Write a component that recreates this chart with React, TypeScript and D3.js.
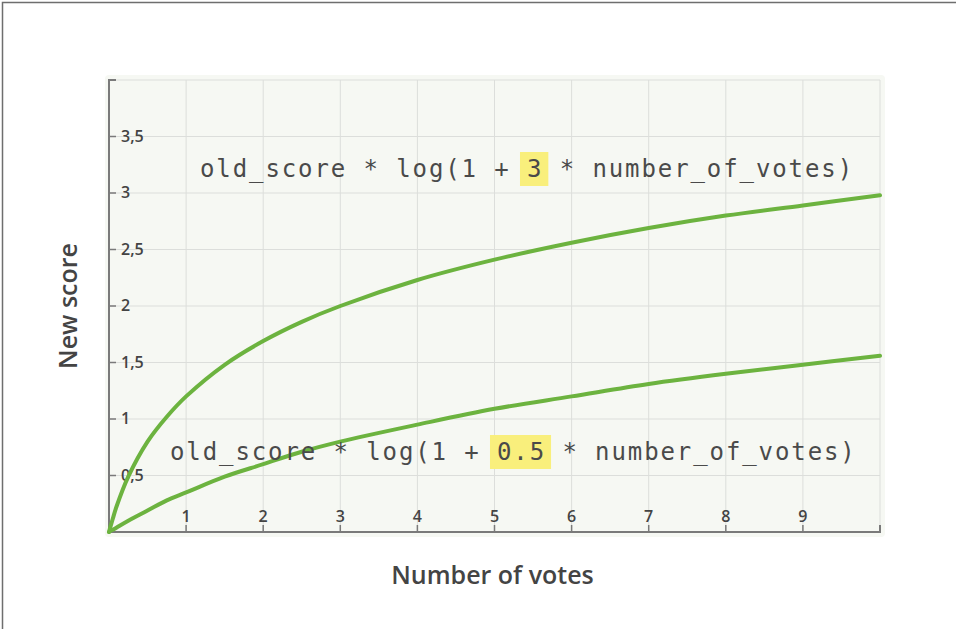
import { useEffect, useRef } from 'react';
import * as d3 from 'd3';

const votes = [0, 0.02, 0.05, 0.1, 0.25, 0.5, 0.75, 1, 1.5, 2, 2.5, 3, 4, 5, 6, 7, 8, 9, 10];
const scoreFactor3 = [0, 0.05, 0.12, 0.23, 0.49, 0.8, 1.02, 1.2, 1.48, 1.69, 1.86, 2.0, 2.23, 2.41, 2.56, 2.69, 2.8, 2.89, 2.98];
const scoreFactor05 = [0, 0.01, 0.02, 0.04, 0.1, 0.19, 0.28, 0.35, 0.49, 0.6, 0.71, 0.8, 0.95, 1.09, 1.2, 1.31, 1.4, 1.48, 1.56];

const xTicks = [1, 2, 3, 4, 5, 6, 7, 8, 9];
const yTicks = [0.5, 1, 1.5, 2, 2.5, 3, 3.5];
const yTickLabels = ['0,5', '1', '1,5', '2', '2,5', '3', '3,5'];

const App = () => {
  const svgRef = useRef<SVGSVGElement>(null);

  useEffect(() => {
    if (!svgRef.current) return;
    const svg = d3.select(svgRef.current);
    svg.selectAll('*').remove();

    const width = 956;
    const height = 629;
    const margin = { top: 80, right: 76, bottom: 97, left: 109 };

    const x = d3.scaleLinear().domain([0, 10]).range([margin.left, width - margin.right]);
    const y = d3.scaleLinear().domain([0, 4]).range([height - margin.bottom, margin.top]);

    svg.append('rect').attr('width', width).attr('height', height).attr('fill', '#fff');

    // frame on top / left edge
    svg.append('path')
      .attr('d', `M2.5,${height} V2.5 H${width}`)
      .attr('fill', 'none')
      .attr('stroke', '#6e6e6e')
      .attr('stroke-width', 1.5);

    // panel
    svg.append('rect')
      .attr('x', x(0) - 4)
      .attr('y', y(4) - 5)
      .attr('width', x(10) - x(0) + 9)
      .attr('height', y(0) - y(4) + 10)
      .attr('rx', 4)
      .attr('fill', '#f6f8f3');

    // grid
    const grid = svg.append('g').attr('stroke', '#dcdedb').attr('stroke-width', 1);
    grid.selectAll('line.v')
      .data(d3.range(1, 11))
      .enter()
      .append('line')
      .attr('x1', d => x(d)).attr('x2', d => x(d))
      .attr('y1', y(4)).attr('y2', y(0));
    grid.selectAll('line.h')
      .data(d3.range(0.5, 4.01, 0.5))
      .enter()
      .append('line')
      .attr('x1', x(0)).attr('x2', x(10))
      .attr('y1', d => y(d)).attr('y2', d => y(d));

    // axes
    const axisColor = '#7a7a7a';
    svg.append('path')
      .attr('d', `M${x(0) + 7},${y(4)} H${x(0)} V${y(0)} H${x(10)} V${y(0) - 7}`)
      .attr('fill', 'none')
      .attr('stroke', axisColor)
      .attr('stroke-width', 2);

    svg.selectAll('line.xt')
      .data(xTicks)
      .enter()
      .append('line')
      .attr('x1', d => x(d)).attr('x2', d => x(d))
      .attr('y1', y(0)).attr('y2', y(0) - 7)
      .attr('stroke', axisColor)
      .attr('stroke-width', 1.5);

    svg.selectAll('line.yt')
      .data(yTicks)
      .enter()
      .append('line')
      .attr('x1', x(0)).attr('x2', x(0) + 7)
      .attr('y1', d => y(d)).attr('y2', d => y(d))
      .attr('stroke', axisColor)
      .attr('stroke-width', 1.5);

    svg.selectAll('text.xl')
      .data(xTicks)
      .enter()
      .append('text')
      .attr('x', d => x(d))
      .attr('y', y(0) - 10)
      .attr('text-anchor', 'middle')
      .attr('font-family', 'Open Sans')
      .attr('font-weight', 600)
      .attr('font-size', 16)
      .attr('fill', '#444')
      .text(d => d);

    svg.selectAll('text.yl')
      .data(yTicks)
      .enter()
      .append('text')
      .attr('x', x(0) + 12)
      .attr('y', d => y(d) + 5)
      .attr('font-family', 'Open Sans')
      .attr('font-weight', 600)
      .attr('font-size', 16)
      .attr('fill', '#444')
      .text((d, i) => yTickLabels[i]);

    // formulas
    const drawFormula = (px: number, py: number, before: string, hl: string, after: string) => {
      const g = svg.append('g');
      const t = g.append('text')
        .attr('x', px)
        .attr('y', py)
        .attr('font-family', 'DejaVu Sans Mono')
        .attr('font-size', 24)
        .attr('letter-spacing', 1.9)
        .attr('fill', '#4a4a4a');
      t.append('tspan').text(before);
      const hs = t.append('tspan').text(hl);
      t.append('tspan').text(after);
      const node = hs.node() as SVGTSpanElement;
      const n = hl.length;
      const start = node.getStartPositionOfChar(0).x;
      const end = node.getEndPositionOfChar(n - 1).x;
      g.insert('rect', 'text')
        .attr('x', start - 7)
        .attr('y', py - 25)
        .attr('width', end - start + 12)
        .attr('height', 34)
        .attr('fill', '#f9ef7c');
    };

    // curves
    const line = d3.line<number>()
      .x((d, i) => x(votes[i]))
      .y(d => y(d))
      .curve(d3.curveCatmullRom.alpha(0.5));

    [scoreFactor3, scoreFactor05].forEach(series => {
      svg.append('path')
        .attr('d', line(series))
        .attr('fill', 'none')
        .attr('stroke', '#6cb33f')
        .attr('stroke-width', 4)
        .attr('stroke-linecap', 'round');
    });

    drawFormula(200, 177, 'old_score * log(1 + ', '3', ' * number_of_votes)');
    drawFormula(170, 460, 'old_score * log(1 + ', '0.5', ' * number_of_votes)');

    // axis titles
    svg.append('text')
      .attr('x', (x(0) + x(10)) / 2 - 2)
      .attr('y', 584)
      .attr('text-anchor', 'middle')
      .attr('font-family', 'Open Sans')
      .attr('font-weight', 600)
      .attr('font-size', 25)
      .attr('fill', '#444')
      .text('Number of votes');

    svg.append('text')
      .attr('transform', `translate(77, ${(y(0) + y(4)) / 2}) rotate(-90)`)
      .attr('text-anchor', 'middle')
      .attr('font-family', 'Open Sans')
      .attr('font-weight', 600)
      .attr('font-size', 25)
      .attr('fill', '#444')
      .text('New score');
  }, []);

  return (
    <svg
      ref={svgRef}
      width={956}
      height={629}
      style={{ position: 'fixed', left: 0, top: 0 }}
    />
  );
};

export default App;
